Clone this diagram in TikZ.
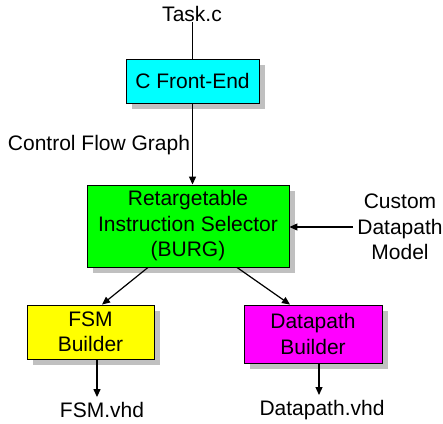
\documentclass[tikz,border=0pt]{standalone}
\usepackage{fontspec}
\setmainfont{Liberation Sans}
\usetikzlibrary{arrows.meta,shadows}
\definecolor{fcyan}{RGB}{0,255,255}
\definecolor{fgreen}{RGB}{0,255,0}
\definecolor{fyellow}{RGB}{255,255,0}
\definecolor{fmagenta}{RGB}{255,0,255}
\definecolor{fshadow}{RGB}{192,192,192}
\begin{document}
\begin{tikzpicture}[x=1pt,y=-1pt,
  lbl/.style={font=\fontsize{21}{25.5}\selectfont, inner sep=0pt, align=center},
  blk/.style={draw=black, line width=0.9pt, font=\fontsize{21}{25.5}\selectfont, align=center, inner sep=0pt,
     drop shadow={shadow xshift=6pt, shadow yshift=-6pt, fill=fshadow, opacity=1}},
  conn/.style={line width=1.2pt, -{Triangle[length=8pt,width=7pt]}},
  plain/.style={line width=1.2pt}]
\useasboundingbox (0,0) rectangle (443,423);
\node[lbl] (task) at (192,14) {Task.c};
\node[blk, fill=fcyan, minimum width=133pt, minimum height=44pt] (fe) at (192.5,81) {C Front-End};
\node[lbl] (cfg) at (99,145) {Control Flow Graph};
\node[blk, fill=fgreen, minimum width=202pt, minimum height=82pt] (sel) at (188,226) {Retargetable\\Instruction Selector\\(BURG)};
\node[lbl] (cdm) at (400,227) {Custom\\Datapath\\Model};
\node[blk, fill=fyellow, minimum width=127pt, minimum height=54pt] (fsm) at (90.5,332) {FSM\\Builder};
\node[blk, fill=fmagenta, minimum width=138pt, minimum height=58pt] (dp) at (313,334) {Datapath\\Builder};
\node[lbl] (fsmv) at (102,410) {FSM.vhd};
\node[lbl] (dpv) at (322,410) {Datapath.vhd};

\draw[plain] (task.south -| fe.north) -- (fe.north);
\draw[conn] (fe.south) -- (fe.south |- sel.north);
\draw[conn, shorten <=4pt] (cdm.west) -- (cdm.west -| sel.east);
\draw[conn] ([xshift=-40pt]sel.south) -- ([xshift=11.5pt]fsm.north);
\draw[conn] ([xshift=49pt]sel.south) -- ([xshift=-23pt]dp.north);
\draw[conn, shorten >=5pt] ([xshift=6.5pt]fsm.south) -- ([xshift=6.5pt]fsm.south |- fsmv.north);
\draw[conn, shorten >=5pt] ([xshift=6pt]dp.south) -- ([xshift=6pt]dp.south |- dpv.north);
\end{tikzpicture}
\end{document}
